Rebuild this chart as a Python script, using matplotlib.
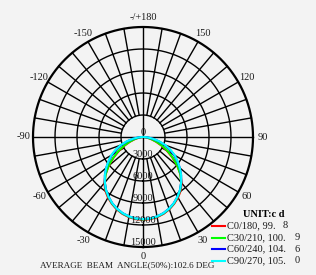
import numpy as np
import matplotlib
matplotlib.use("Agg")
import matplotlib.pyplot as plt

# ---------------- data ----------------
gamma = [0, 5, 10, 15, 20, 25, 30, 35, 40, 45, 50, 55, 60, 65, 70, 75, 80, 85, 90]
c0_180   = [11300, 11250, 11100, 10850, 10500, 10050, 9550, 8950, 8200, 7250, 6100, 4900, 3800, 2800, 1900, 1200, 650, 280, 80]
c30_210  = [11250, 11200, 11050, 10800, 10450, 10000, 9450, 8850, 8100, 7200, 6150, 5000, 3950, 2950, 2050, 1300, 700, 300, 90]
c60_240  = [11200, 11150, 11000, 10750, 10400, 9950, 9400, 8800, 8100, 7350, 6550, 5700, 4900, 4000, 3100, 2200, 1350, 620, 150]
c90_270  = [11200, 11150, 11000, 10750, 10400, 9950, 9400, 8800, 8100, 7350, 6550, 5750, 5000, 4150, 3250, 2300, 1400, 650, 150]
plane_names = ["C0/180", "C30/210", "C60/240", "C90/270"]
beam_angles = [99.8, 100.9, 104.6, 105.0]
avg_beam = 102.6
ring_values = [3000, 6000, 9000, 12000, 15000]
angle_ticks = [0, 30, 60, 90, 120, 150, 180, -150, -120, -90, -60, -30]
angle_labels = ["0", "30", "60", "90", "120", "150", "-/+180", "-150", "-120", "-90", "-60", "-30"]
colors = ["#ff0000", "#00ff00", "#0000ff", "#00ffff"]
series = [c0_180, c30_210, c60_240, c90_270]

# ---------------- figure ----------------
BG = "#f3f3f3"
W, H = 316, 275
fig = plt.figure(figsize=(W / 100, H / 100), dpi=100, facecolor=BG)
cx, cy, R = 143, 137, 110
ax = fig.add_axes([(cx - R) / W, (H - cy - R) / H, 2 * R / W, 2 * R / H], projection="polar")
ax.set_facecolor(BG)
ax.set_theta_zero_location("S")
ax.set_theta_direction(1)
rmax = ring_values[-1]
ax.set_ylim(0, rmax)
ax.grid(False)
ax.set_xticks([])
ax.set_yticks([])
ax.spines["polar"].set_visible(False)

font = "Liberation Serif"
fs = 7.5
tc = "#1a1a1a"

# grid circles
th = np.linspace(0, 2 * np.pi, 721)
for rv in ring_values:
    ax.plot(th, np.full_like(th, rv), color="black",
            lw=1.6 if rv == rmax else 1.0, clip_on=False, zorder=2)
# radial lines every 10 deg
for a in range(0, 360, 10):
    t = np.deg2rad(a)
    r0 = 0 if a % 90 == 0 else ring_values[0]
    ax.plot([t, t], [r0, rmax], color="black", lw=1.0, clip_on=False, zorder=2)

# data curves (mirrored to both halves of each plane)
g = np.array(gamma, dtype=float)
for vals, col in zip(series, colors):
    v = np.array(vals, dtype=float)
    thetas = np.deg2rad(np.concatenate([-g[::-1], g[1:]]))
    rs = np.concatenate([v[::-1], v[1:]])
    ax.plot(thetas, rs, color=col, lw=1.5, zorder=3, clip_on=False)

# angle labels
for a, lab in zip(angle_ticks, angle_labels):
    ax.text(np.deg2rad(a), rmax * 1.09, lab, ha="center", va="center",
            fontsize=fs, family=font, color=tc, clip_on=False)

# radial labels
ax.text(0, 0, "0", ha="center", va="bottom", fontsize=fs, family=font,
        color=tc, zorder=4)
for rv in ring_values:
    ax.text(0, rv, str(rv), ha="center", va="bottom", fontsize=fs, family=font,
            color=tc, zorder=4, clip_on=False)

# legend
fig.text(243 / W, 1 - 214.5 / H, "UNIT:c d", fontsize=fs, family=font,
         weight="bold", va="center", ha="left", color="black")
for i, (name, ba, col) in enumerate(zip(plane_names, beam_angles, colors)):
    y = 1 - (226 + i * 11.5) / H
    fig.add_artist(plt.Line2D([212 / W, 225 / W], [y, y], color=col, lw=1.5))
    ip = int(ba)
    dec = int(round((ba - ip) * 10))
    fig.text(227 / W, y, f"{name}, {ip}.", fontsize=fs, family=font,
             va="center", ha="left", color=tc)
    fig.text((283 if ip < 100 else 294.5) / W, y, f"{dec}", fontsize=fs, family=font,
             va="center", ha="left", color=tc)

fig.text(40 / W, 1 - 265.5 / H, f"AVERAGE  BEAM  ANGLE(50%):{avg_beam} DEG",
         fontsize=6.6, family=font, va="center", ha="left", color=tc)

fig.savefig("out.png", dpi=100, facecolor=BG)
